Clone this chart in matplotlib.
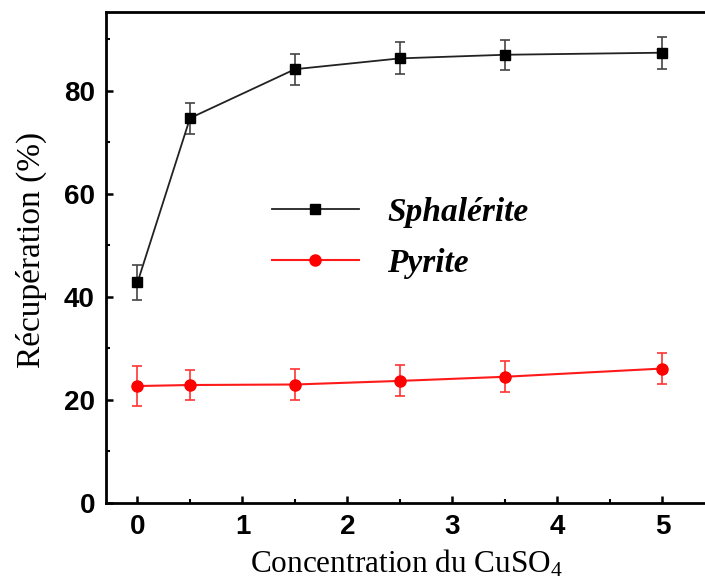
import matplotlib
matplotlib.use("Agg")
import matplotlib.pyplot as plt
from matplotlib.lines import Line2D
from matplotlib.ticker import MultipleLocator


CONC = [0, 0.5, 1.5, 2.5, 3.5, 5]
SPHALERITE = [42.8, 74.7, 84.2, 86.3, 87.0, 87.4]
SPHALERITE_ERR = [3.4, 3.0, 3.0, 3.1, 2.9, 3.1]
PYRITE = [22.7, 22.9, 23.0, 23.7, 24.5, 26.1]
PYRITE_ERR = [3.8, 3.0, 3.0, 3.0, 3.0, 3.0]

X_TICKS = [0, 1, 2, 3, 4, 5]
Y_TICKS = [0, 20, 40, 60, 80]

SERIF = "Liberation Serif"
SANS = "Liberation Sans"

BLACK_STYLE = dict(color="#222222", linewidth=1.3, marker="s", markersize=7,
                   markerfacecolor="black", markeredgecolor="black")
RED_STYLE = dict(color="#ff1a1a", linewidth=1.5, marker="o", markersize=8,
                 markerfacecolor="#ff0000", markeredgecolor="#ff0000")


def main():
    fig = plt.figure(figsize=(7.05, 5.87), dpi=100)
    # right edge of the box is cut off in the reference, so the axes run past the figure
    ax = fig.add_axes([106 / 705, 84 / 587, 620 / 705, 491 / 587])

    ax.errorbar(CONC, SPHALERITE, yerr=SPHALERITE_ERR, ecolor="#444444", elinewidth=1.2,
                capsize=3.5, capthick=1.2, zorder=3, **BLACK_STYLE)
    ax.errorbar(CONC, PYRITE, yerr=PYRITE_ERR, ecolor="#ff3333", elinewidth=1.2,
                capsize=3.5, capthick=1.2, zorder=3, **RED_STYLE)

    ax.set_xlim(-0.3, 5.605)
    ax.set_ylim(0, 95.3)
    ax.set_xticks(X_TICKS)
    ax.set_yticks(Y_TICKS)
    ax.xaxis.set_minor_locator(MultipleLocator(0.5))
    ax.yaxis.set_minor_locator(MultipleLocator(10))
    ax.tick_params(which="major", direction="in", length=5, width=1.8, pad=8)
    ax.tick_params(which="minor", direction="in", length=3, width=1.5)
    ax.spines["right"].set_visible(False)
    for side in ["left", "bottom", "top"]:
        ax.spines[side].set_linewidth(2)

    for lab in ax.get_xticklabels() + ax.get_yticklabels():
        lab.set_fontfamily(SANS)
        lab.set_fontweight("bold")
        lab.set_fontsize(20)

    ax.set_xlabel("Concentration du CuSO$\\mathregular{_4}$", fontfamily=SERIF, fontsize=22.5,
                  labelpad=6, x=0.485)
    ax.set_ylabel("Récupération (%)", fontfamily=SERIF, fontsize=24, labelpad=12, y=0.515)

    handles = [Line2D([], [], **BLACK_STYLE), Line2D([], [], **RED_STYLE)]
    ax.legend(handles, ["Sphalérite", "Pyrite"], loc="center left",
              bbox_to_anchor=(272 / 705, 349 / 587), bbox_transform=fig.transFigure,
              frameon=False, borderpad=0, borderaxespad=0, handlelength=2.6,
              handletextpad=0.85, labelspacing=0.59,
              prop={"family": SERIF, "weight": "bold", "style": "italic", "size": 24})

    fig.savefig("out.png", dpi=100)


if __name__ == "__main__":
    main()
